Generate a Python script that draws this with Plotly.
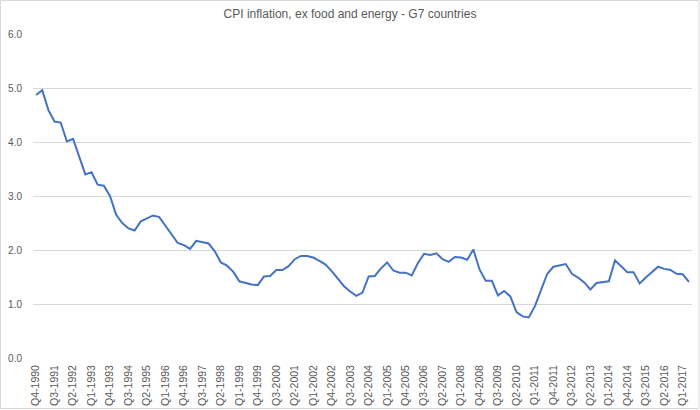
import plotly.graph_objects as go

# Quarterly categories Q4-1990 .. Q2-2017
quarters = [f"Q{q}-{y}" for y in range(1990, 2018) for q in range(1, 5)]
categories = quarters[quarters.index("Q4-1990"):quarters.index("Q2-2017") + 1]

cpi_core = [
    4.87, 4.96, 4.59, 4.38, 4.36, 4.01, 4.06, 3.73, 3.40, 3.44,
    3.21, 3.19, 3.00, 2.65, 2.50, 2.40, 2.36, 2.53, 2.59, 2.64,
    2.61, 2.45, 2.27, 2.13, 2.09, 2.02, 2.17, 2.15, 2.12, 1.98,
    1.77, 1.71, 1.60, 1.42, 1.39, 1.36, 1.35, 1.51, 1.52, 1.63,
    1.63, 1.70, 1.83, 1.89, 1.89, 1.86, 1.80, 1.73, 1.61, 1.47,
    1.33, 1.23, 1.15, 1.21, 1.51, 1.52, 1.66, 1.77, 1.62, 1.58,
    1.58, 1.53, 1.76, 1.93, 1.91, 1.94, 1.83, 1.78, 1.87, 1.86,
    1.82, 2.01, 1.64, 1.43, 1.43, 1.16, 1.24, 1.14, 0.85, 0.77,
    0.75, 0.96, 1.27, 1.56, 1.69, 1.72, 1.74, 1.56, 1.49, 1.40,
    1.27, 1.39, 1.41, 1.42, 1.81, 1.69, 1.59, 1.59, 1.38, 1.49,
    1.59, 1.69, 1.65, 1.63, 1.56, 1.55, 1.41,
]

tick_labels = categories[::3]
y_ticks = [0, 1, 2, 3, 4, 5, 6]

title_text = "CPI inflation, ex food and energy - G7 countries"

FONT = "Liberation Sans, Arial, sans-serif"
TEXT = "#595959"
GRID = "#d9d9d9"

fig = go.Figure()
fig.add_trace(go.Scatter(
    x=categories, y=cpi_core, mode="lines",
    line=dict(color="#4472C4", width=2),
    hoverinfo="x+y",
))

W, H = 700, 410
ml, mr, mt, mb = 33, 8, 34, 52
pw, ph = W - ml - mr, H - mt - mb

fig.update_layout(
    width=W, height=H,
    margin=dict(l=ml, r=mr, t=mt, b=mb, autoexpand=False),
    paper_bgcolor="white", plot_bgcolor="white",
    showlegend=False,
    font=dict(family=FONT, color=TEXT, size=10),
    title=dict(text=title_text, x=0.5, xanchor="center", y=1 - 14 / H, yanchor="middle",
               font=dict(family=FONT, size=12, color=TEXT), automargin=False),
    xaxis=dict(
        type="category", categoryorder="array", categoryarray=categories,
        range=[-0.5, len(categories) - 0.5],
        tickmode="array", tickvals=tick_labels, ticktext=tick_labels,
        tickangle=-90, ticks="", showgrid=False, zeroline=False,
        showline=False, tickfont=dict(size=10.5, color=TEXT),
        ticklabelstandoff=4, automargin=False,
    ),
    yaxis=dict(
        range=[0, 6], tickmode="array", tickvals=y_ticks,
        tickformat=".1f", showgrid=True, gridcolor=GRID, gridwidth=1,
        zeroline=False, showline=False, ticks="",
        tickfont=dict(size=10, color=TEXT), ticklabelstandoff=10,
        automargin=False,
    ),
    shapes=[dict(
        type="rect", xref="paper", yref="paper",
        x0=-ml / pw + 0.5 / pw, x1=1 + (mr - 1) / pw,
        y0=-(mb - 1.5) / ph, y1=1 + (mt - 0.5) / ph,
        line=dict(color=GRID, width=1), fillcolor="rgba(0,0,0,0)", layer="above",
    )],
)

fig.write_html(
    "out.html",
    config={"displayModeBar": False},
    post_script="document.body.style.margin='0';document.body.style.overflow='hidden';",
)
